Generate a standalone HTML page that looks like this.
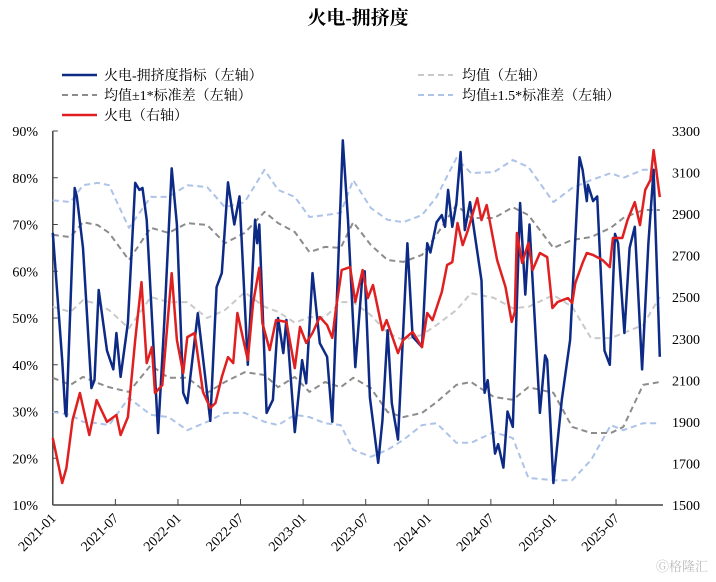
<!DOCTYPE html>
<html><head><meta charset="utf-8">
<style>
html,body{margin:0;padding:0;background:#fff;}
body{width:716px;height:577px;overflow:hidden;font-family:"Liberation Serif","Noto Serif CJK SC",serif;}
svg text{font-family:"Liberation Serif","Noto Serif CJK SC",serif;}
</style></head>
<body>
<svg id="chart" width="716" height="577" viewBox="0 0 716 577" xmlns="http://www.w3.org/2000/svg">
<text x="358" y="24" text-anchor="middle" font-size="19" font-weight="bold" fill="#000">火电-拥挤度</text>
<g id="legend" font-size="14" fill="#000">
  <g><line x1="62" y1="75" x2="97" y2="75" stroke="#0d2b86" stroke-width="2.5"/><text x="104" y="80">火电-拥挤度指标（左轴）</text></g>
  <g><line x1="418" y1="75" x2="453" y2="75" stroke="#c9c9c9" stroke-width="2" stroke-dasharray="6,4"/><text x="462" y="80">均值（左轴）</text></g>
  <g><line x1="62" y1="95" x2="97" y2="95" stroke="#8c8c8c" stroke-width="2" stroke-dasharray="6,4"/><text x="104" y="100">均值±1*标准差（左轴）</text></g>
  <g><line x1="418" y1="95" x2="453" y2="95" stroke="#adc3e8" stroke-width="2" stroke-dasharray="6,4"/><text x="462" y="100">均值±1.5*标准差（左轴）</text></g>
  <g><line x1="62" y1="115" x2="97" y2="115" stroke="#e02020" stroke-width="2.5"/><text x="104" y="120">火电（右轴）</text></g>
</g>
<g id="axes"></g>
<g id="series"></g>
<text x="708" y="571" text-anchor="end" font-size="13" fill="#bbb" font-family="Liberation Sans, Noto Sans CJK SC, sans-serif">Ⓖ格隆汇</text>
</svg>
<script>
// x: months since 2021-01
const xTickLabels = ['2021-01','2021-07','2022-01','2022-07','2023-01','2023-07','2024-01','2024-07','2025-01','2025-07'];
const xTickMonths = [0,6,12,18,24,30,36,42,48,54];
const leftTicks = [10,20,30,40,50,60,70,80,90];
const rightTicks = [1500,1700,1900,2100,2300,2500,2700,2900,3100,3300];

const crowdT = [0,0.9,1.2,1.3,2.1,2.3,2.9,3.7,4.0,4.4,5.2,5.8,6.1,6.5,7.2,7.9,8.3,8.6,9.0,10.1,10.7,11.4,11.9,12.5,12.9,13.9,15.1,15.7,16.2,16.8,17.4,17.9,18.7,19.4,19.6,19.8,20.5,21.1,21.6,22.1,22.4,23.2,23.9,24.3,24.9,25.6,26.3,26.8,27.8,28.3,29.0,29.7,29.9,30.4,31.2,31.6,32.1,32.5,33.1,34.0,34.5,35.4,35.9,36.2,36.8,37.3,37.6,37.9,38.3,38.7,39.1,39.5,40.0,41.1,41.4,41.7,42.4,42.7,43.2,43.6,44.1,44.8,45.3,45.7,46.7,47.2,47.4,48.0,48.8,49.6,50.5,50.8,51.2,51.3,51.8,52.2,52.9,53.4,53.9,54.2,54.8,55.3,55.8,56.5,57.1,57.6,58.2];
const crowdV = [68.2,41,29.7,29,77.8,76,65,35,36.7,56,43,39,46.8,37.4,49,78.9,77.4,77.8,71,25.4,49.6,82,70,34,31.8,51,28,56.6,59.6,79,70,76,40,71,66,70,29.7,32.5,50,42.5,49.6,25.6,41,36,59.6,44.6,41.7,27.8,88,71,39.5,59.6,60,33,19,28,47.4,31.8,24,66,46,43.8,66,64,70.5,72,69.5,77.4,69.5,74.6,85.5,68.8,74.8,58,34,36.7,21,23,18,30,26.7,74.6,55,70,29.7,42,41,14.7,32.5,45.3,84.4,81.7,75,78.5,75,76,43,40,68,66,46.8,65,69.5,39,66,81.7,41.7];

const thermT = [0,0.9,1.3,1.9,2.6,3.5,4.2,5.2,6.1,6.5,7.2,7.9,8.5,9.0,9.5,9.8,10.5,11.4,11.9,12.5,12.9,13.6,14.4,15.1,15.6,16.2,16.8,17.3,17.7,18.7,19.2,19.8,20.1,20.8,21.4,22.4,23.2,23.7,24.3,24.9,25.6,26.3,26.8,27.1,27.7,28.5,29.0,29.7,30.2,30.7,31.6,32.0,33.1,33.6,34.5,35.4,35.9,36.4,37.3,37.8,38.3,38.8,39.3,39.8,40.7,41.1,41.6,42.6,43.4,44.0,44.3,44.5,45.0,45.6,46.0,46.7,47.4,47.9,48.4,49.4,49.8,50.1,50.8,51.2,51.8,52.7,53.4,53.7,54.6,55.1,55.8,56.3,56.8,57.3,57.6,58.2];
const thermV = [1822,1606,1678,1909,2039,1837,2005,1900,1933,1837,1923,2294,2573,2183,2260,2039,2077,2616,2294,2135,2308,2328,2044,1967,1991,2116,2212,2183,2424,2198,2472,2641,2376,2246,2390,2381,2159,2357,2280,2328,2405,2366,2304,2429,2631,2645,2477,2631,2496,2559,2342,2390,2231,2294,2333,2260,2424,2390,2525,2655,2669,2857,2751,2823,2977,2871,2944,2679,2549,2381,2429,2809,2665,2761,2631,2713,2693,2448,2477,2496,2472,2568,2665,2713,2703,2679,2645,2785,2785,2871,2958,2847,3016,3064,3208,2982];

const bandT = [0,1.7,2.9,4.3,5.4,7.3,9.4,11.1,12.9,14.8,16.5,18.4,20.3,21.6,23.2,24.6,26.1,27.6,28.8,30.5,32.1,33.6,35.4,36.8,38.7,40.1,42.3,44.1,45.6,48.0,49.8,51.6,53.5,54.7,56.6,58.2];
const meanV = [52.4,51.3,53.8,53,51.7,47.8,54.5,53.4,53.4,50,51.7,55.5,52.4,51.3,49,50.2,50.2,53.4,53.4,50.6,46.8,45.3,46.4,48.5,51.7,55.3,54.3,52.1,52.4,54.9,52.4,45.7,45.7,46.8,48.5,54.5];
const up1V = [67.8,67.3,70.5,69.9,68.2,62.4,69.3,68.2,70.3,69.9,66,68.2,72.7,70.3,68.4,64.1,65.2,65,70.5,65.6,62.4,62,63.5,67.8,74.2,71.4,71.4,73.7,72,65,66.7,67.3,69.3,71.4,73.1,73.1];
const dn1V = [37.2,35.7,37.4,36.1,35.2,34.2,39.9,37.2,37.2,34,36.3,38.4,37.8,35.2,37.4,34.2,36.3,35.2,37.2,35,29.9,28.8,29.7,32,35.7,36.3,33.1,32.5,35.2,34,26.7,25.4,25.4,26.7,35.7,36.3];
const up15V = [75.2,74.8,78.4,78.9,78.4,69.3,75.9,75.9,78.4,78,73.7,74.8,81.7,77.4,75.9,71.6,72,72.5,79.5,73.5,71,70.5,72,75.9,84.2,81,81.2,83.8,82.3,74.8,77.8,79.5,81,80,81.7,81.7];
const dn15V = [29.9,29.3,27.8,27.5,27.1,32.9,29.3,28.8,26,27.8,29.7,29.7,27.8,27.1,29.3,28.8,27.5,27.1,21.8,20.3,21.8,23.9,27.1,27.5,23.3,23.3,25.6,24.3,15.8,15.3,15.3,19.6,27.1,26,27.5,27.5];

const L=52.8, R=663, T=131, B=505, MW=10.43;
const xS = m => L + m*MW;
const yL = v => B - (v-10)/80*(B-T);
const yR = v => B - (v-1500)/1800*(B-T);
const NS='http://www.w3.org/2000/svg';
function mk(tag, parent){const e=document.createElementNS(NS,tag);parent.appendChild(e);return e;}
const axes=document.getElementById('axes'), ser=document.getElementById('series');

const la=mk('line',axes);


la.setAttribute('x1',L);la.setAttribute('x2',L);la.setAttribute('y1',T);la.setAttribute('y2',B);la.setAttribute('stroke','#444');la.setAttribute('stroke-width','1.5');
const ba=mk('line',axes);


ba.setAttribute('x1',L);ba.setAttribute('x2',R);ba.setAttribute('y1',B);ba.setAttribute('y2',B);ba.setAttribute('stroke','#444');ba.setAttribute('stroke-width','1.5');

leftTicks.forEach(v=>{
  const y=yL(v);
  const t=mk('line',axes);
  
  
  t.setAttribute('x1',L);t.setAttribute('x2',L+5);t.setAttribute('y1',y);t.setAttribute('y2',y);t.setAttribute('stroke','#444');
  const tx=mk('text',axes);
  
  
  tx.setAttribute('x',38);tx.setAttribute('y',y+5);tx.setAttribute('text-anchor','end');tx.setAttribute('font-size','14');
  tx.textContent=v+'%';
});
rightTicks.forEach(v=>{
  const y=yR(v);
  const tx=mk('text',axes);
  
  
  tx.setAttribute('x',672);tx.setAttribute('y',y+5);tx.setAttribute('font-size','14');
  tx.textContent=v;
});
xTickMonths.forEach((m,i)=>{
  const x=xS(m);
  const t=mk('line',axes);
  
  
  t.setAttribute('x1',x);t.setAttribute('x2',x);t.setAttribute('y1',B);t.setAttribute('y2',B-6);t.setAttribute('stroke','#444');
  const tx=mk('text',axes);
  
  
  tx.setAttribute('x',x+4);tx.setAttribute('y',B+14);tx.setAttribute('text-anchor','end');tx.setAttribute('font-size','14');
  tx.setAttribute('transform','rotate(-45 '+(x+4)+' '+(B+14)+')');
  tx.textContent=xTickLabels[i];
});

function line(ts, vs, ys, color, w, dash, name){
  const p=mk('path',ser);
  
  
  p.setAttribute('d',ts.map((t,i)=>(i?'L':'M')+xS(t).toFixed(1)+','+ys(vs[i]).toFixed(1)).join(''));
  p.setAttribute('fill','none');p.setAttribute('stroke',color);p.setAttribute('stroke-width',w);
  p.setAttribute('stroke-linejoin','round');
  if(dash)p.setAttribute('stroke-dasharray',dash);
}
line(bandT,up15V,yL,'#adc3e8',2,'6,4','upper-1-5sd-line');
line(bandT,dn15V,yL,'#adc3e8',2,'6,4','lower-1-5sd-line');
line(bandT,up1V,yL,'#8c8c8c',2,'6,4','upper-1sd-line');
line(bandT,dn1V,yL,'#8c8c8c',2,'6,4','lower-1sd-line');
line(bandT,meanV,yL,'#c9c9c9',2,'6,4','mean-line');
line(crowdT,crowdV,yL,'#0d2b86',2.5,null,'crowding-line');
line(thermT,thermV,yR,'#e02020',2.5,null,'thermal-power-line');
</script>
</body></html>
